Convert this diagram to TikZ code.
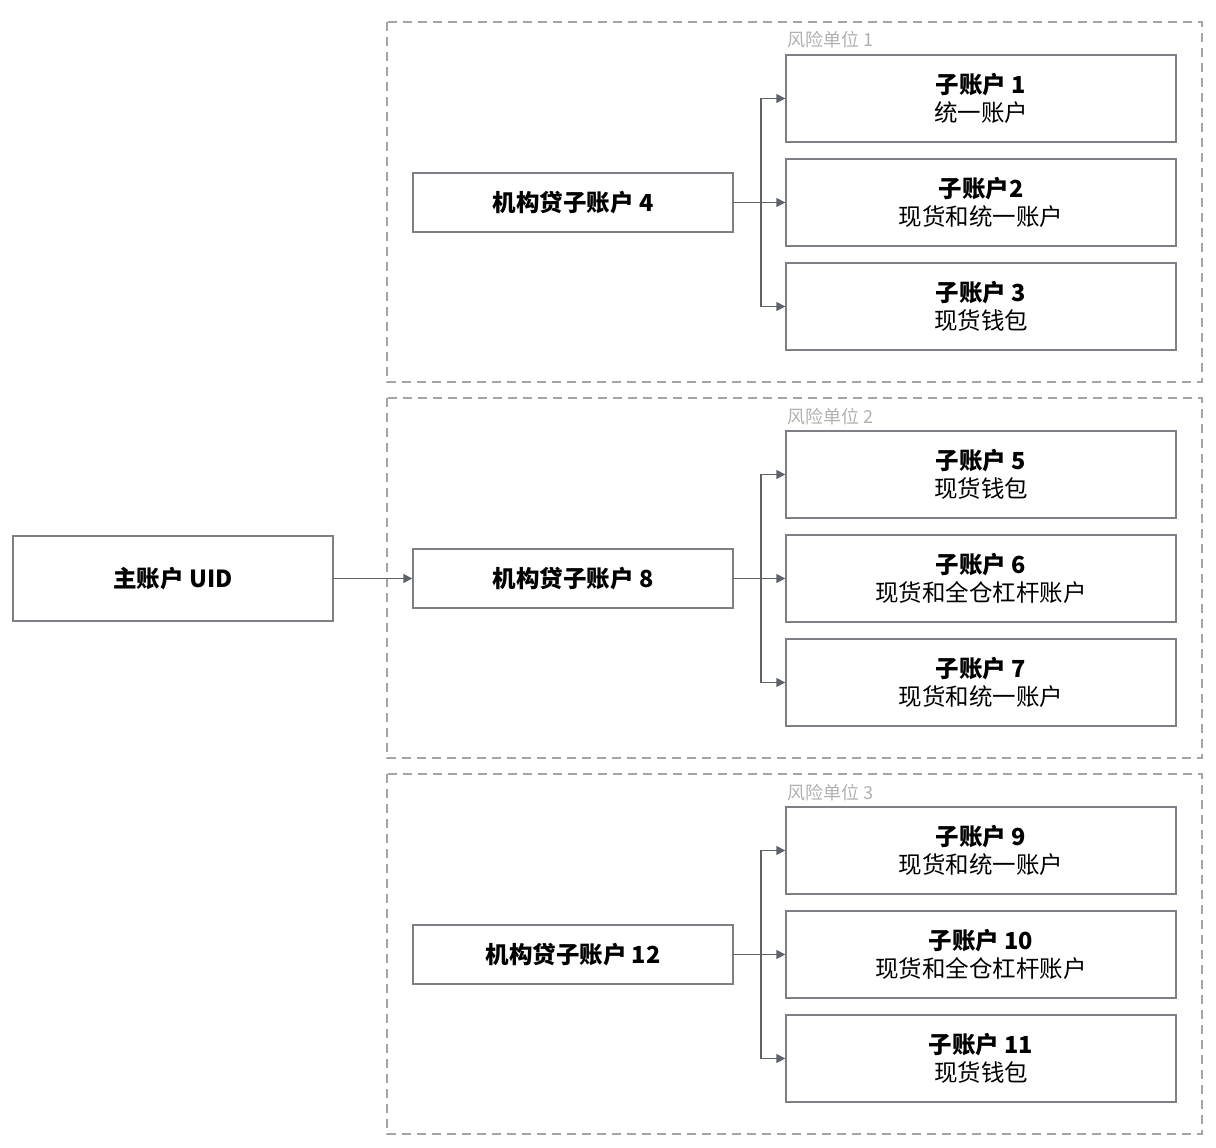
\documentclass[tikz,border=0pt]{standalone}
\usepackage{fontspec}
\setmainfont{Noto Sans CJK SC}
\usetikzlibrary{arrows.meta}
\definecolor{boxline}{HTML}{7C7F85}
\definecolor{arrowc}{HTML}{5F6369}
\definecolor{dashc}{HTML}{A4A4A4}
\definecolor{lblc}{HTML}{B0B0B0}
\tikzset{
  acct/.style={draw=boxline, line width=1.4pt, fill=white, inner sep=0pt, align=center,
    font=\fontsize{23.5}{28.5}\selectfont, text=black},
  mainbox/.style={acct, minimum width=320pt, minimum height=85pt},
  midbox/.style={acct, minimum width=320pt, minimum height=59pt},
  subbox/.style={acct, minimum width=390pt, minimum height=87pt},
  riskbox/.style={draw=dashc, line width=1.4pt, dash pattern=on 9pt off 6pt},
  risklbl/.style={anchor=base west, text=lblc, font=\fontsize{18}{20}\selectfont, inner sep=0pt},
  link/.style={draw=arrowc, line width=1.6pt, -{Triangle[length=9pt,width=9pt]}},
  trunk/.style={draw=arrowc, line width=1.6pt}
}
\begin{document}
\begin{tikzpicture}[x=1pt,y=-1pt]
\useasboundingbox (0,0) rectangle (1216,1148);
% risk units
\draw[riskbox] (387,22) rectangle (1202,382);
\draw[riskbox] (387,398) rectangle (1202,758);
\draw[riskbox] (387,774) rectangle (1202,1134);
\node[risklbl] (l1) at (787,47) {风险单位 1};
\node[risklbl] (l2) at (787,423) {风险单位 2};
\node[risklbl] (l3) at (787,799) {风险单位 3};
% nodes
\node[mainbox] (main) at (173,578.5) {\bfseries 主账户 UID};
\node[midbox] (m4) at (573,202.5) {\bfseries 机构贷子账户 4};
\node[midbox] (m8) at (573,578.5) {\bfseries 机构贷子账户 8};
\node[midbox] (m12) at (573,954.5) {\bfseries 机构贷子账户 12};
\node[subbox] (s1) at (981,98.5) {\bfseries 子账户 1\\统一账户};
\node[subbox] (s2) at (981,202.5) {\bfseries 子账户2\\现货和统一账户};
\node[subbox] (s3) at (981,306.5) {\bfseries 子账户 3\\现货钱包};
\node[subbox] (s5) at (981,474.5) {\bfseries 子账户 5\\现货钱包};
\node[subbox] (s6) at (981,578.5) {\bfseries 子账户 6\\现货和全仓杠杆账户};
\node[subbox] (s7) at (981,682.5) {\bfseries 子账户 7\\现货和统一账户};
\node[subbox] (s9) at (981,850.5) {\bfseries 子账户 9\\现货和统一账户};
\node[subbox] (s10) at (981,954.5) {\bfseries 子账户 10\\现货和全仓杠杆账户};
\node[subbox] (s11) at (981,1058.5) {\bfseries 子账户 11\\现货钱包};
% connectors
\draw[link] (main.east) -- (m8.west);
\foreach \m/\a/\b/\c in {m4/s1/s2/s3, m8/s5/s6/s7, m12/s9/s10/s11}{
  \coordinate (j) at (761,0 |- \m.east);
  \draw[trunk] (\m.east) -- (j);
  \draw[link] (j) -- (\b.west);
  \draw[link] (j) |- (\a.west);
  \draw[link] (j) |- (\c.west);
}
\end{tikzpicture}
\end{document}
